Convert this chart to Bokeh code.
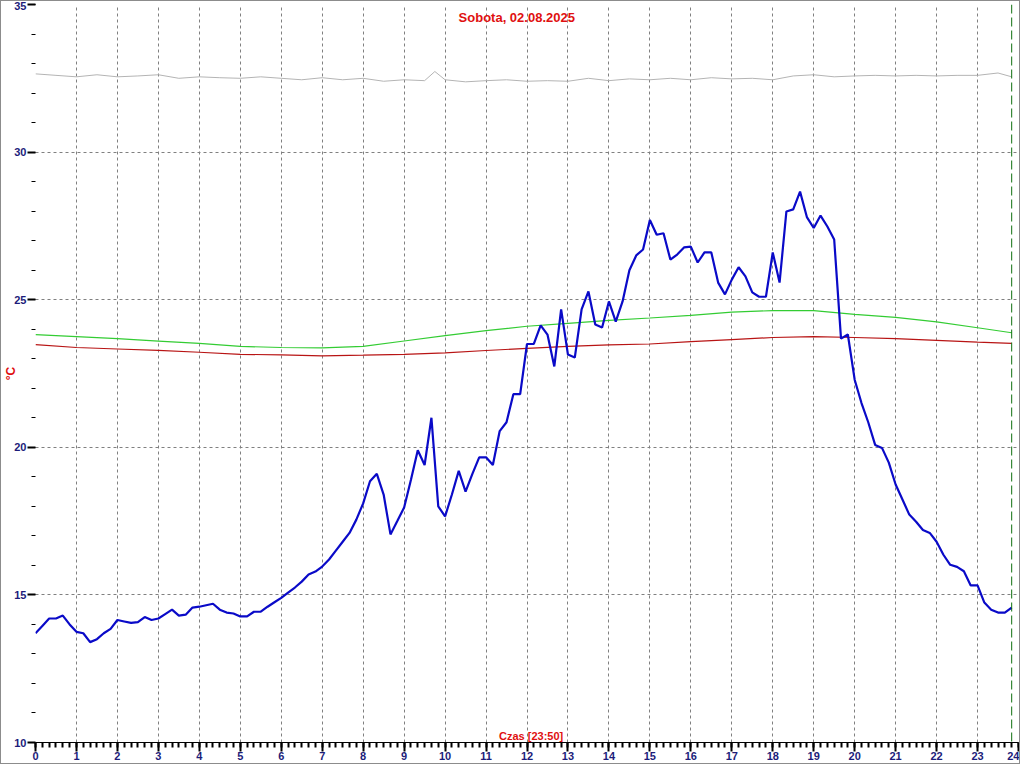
import math
from bokeh.plotting import figure
from bokeh.models import SingleIntervalTicker, Range1d, Label, Span
from bokeh.embed import file_html
from bokeh.resources import INLINE

# ---------------- data ----------------
title_text = "Sobota, 02.08.2025"
x_label_text = "Czas [23:50]"
y_label_text = "°C"
last_time_h = 23 + 50 / 60

# main (blue) temperature, every 10 minutes from 00:00 to 23:50
blue_temp = [
    13.7, 13.95, 14.2, 14.2, 14.3, 14.0, 13.75, 13.7, 13.4, 13.5,
    13.7, 13.85, 14.15, 14.1, 14.05, 14.08, 14.25, 14.15, 14.2, 14.35,
    14.5, 14.3, 14.33, 14.57, 14.6, 14.65, 14.7, 14.5, 14.4, 14.37,
    14.27, 14.27, 14.43, 14.43, 14.6, 14.75, 14.9, 15.08, 15.25, 15.45,
    15.69, 15.79, 15.96, 16.2, 16.5, 16.8, 17.1, 17.55, 18.1, 18.85,
    19.1, 18.4, 17.05, 17.5, 17.96, 18.9, 19.9, 19.4, 21.0, 18.0,
    17.66, 18.4, 19.2, 18.5, 19.1, 19.66, 19.66, 19.4, 20.55, 20.85,
    21.8, 21.8, 23.5, 23.5, 24.13, 23.82, 22.74, 24.67, 23.14, 23.04,
    24.67, 25.28, 24.16, 24.06, 24.94, 24.26, 24.94, 26.0, 26.5, 26.7,
    27.7, 27.2, 27.25, 26.36, 26.53, 26.77, 26.8, 26.26, 26.6, 26.6,
    25.58, 25.18, 25.68, 26.1, 25.79, 25.25, 25.1, 25.1, 26.6, 25.58,
    27.99, 28.06, 28.66, 27.8, 27.43, 27.85, 27.48, 27.04, 23.68, 23.82,
    22.29, 21.5, 20.84, 20.08, 19.98, 19.48, 18.74, 18.23, 17.72, 17.48,
    17.2, 17.1, 16.8, 16.36, 16.02, 15.95, 15.8, 15.32, 15.32, 14.74,
    14.5, 14.4, 14.4, 14.57,
]
blue_minutes = list(range(0, 1440, 10))

# green and red series (hourly readings, last at 23:50)
hourly_times = list(range(0, 24)) + [last_time_h]
green_temp = [23.82, 23.75, 23.68, 23.6, 23.52, 23.42, 23.38, 23.37, 23.42, 23.6,
              23.78, 23.95, 24.1, 24.2, 24.3, 24.38, 24.47, 24.58, 24.63, 24.63,
              24.5, 24.4, 24.25, 24.05, 23.88]
red_temp = [23.48, 23.38, 23.33, 23.28, 23.22, 23.15, 23.13, 23.1, 23.12, 23.15,
            23.2, 23.28, 23.35, 23.42, 23.47, 23.5, 23.58, 23.65, 23.72, 23.75,
            23.72, 23.68, 23.62, 23.56, 23.52]

# grey series (half-hourly)
grey_times = [0, 0.5, 1, 1.5, 2, 2.5, 3, 3.5, 4, 4.5, 5, 5.5, 6, 6.5, 7, 7.5, 8, 8.5,
              9, 9.5, 9.75, 10, 10.5, 11, 11.5, 12, 12.5, 13, 13.5, 14, 14.5, 15,
              15.5, 16, 16.5, 17, 17.5, 18, 18.5, 19, 19.5, 20, 20.5, 21, 21.5, 22,
              22.5, 23, 23.5, last_time_h]
grey_temp = [32.65, 32.6, 32.55, 32.62, 32.55, 32.58, 32.62, 32.5, 32.55, 32.52,
             32.5, 32.55, 32.5, 32.45, 32.52, 32.45, 32.5, 32.4, 32.45, 32.42,
             32.73, 32.45, 32.38, 32.42, 32.45, 32.4, 32.42, 32.4, 32.5, 32.42,
             32.48, 32.45, 32.5, 32.45, 32.52, 32.48, 32.5, 32.45, 32.58, 32.62,
             32.55, 32.58, 32.6, 32.58, 32.6, 32.58, 32.6, 32.6, 32.68, 32.55]

x_start, x_end = 0, 24
y_start, y_end = 10, 35

# ---------------- figure ----------------
FONT = "Liberation Sans"
NAVY = "#1c1c7a"
RED = "#e01010"

p = figure(width=1020, height=764, output_backend="svg", toolbar_location=None,
           x_range=Range1d(x_start, x_end), y_range=Range1d(y_start, y_end),
           min_border_left=33, min_border_right=3, min_border_top=3, min_border_bottom=23)
p.styles = {"border": "1px solid #8c8c8c"}
p.outline_line_color = None
p.background_fill_color = "white"
p.border_fill_color = "white"

# axes
xax = p.xaxis[0]
xax.ticker = SingleIntervalTicker(interval=1, num_minor_ticks=6)
xax.axis_line_color = "black"
xax.axis_line_width = 1
xax.major_tick_line_color = "black"
xax.minor_tick_line_color = "black"
xax.major_tick_in = 0
xax.major_tick_out = 9
xax.minor_tick_in = 0
xax.minor_tick_out = 5
xax.major_tick_line_width = 2
xax.minor_tick_line_width = 2
xax.major_label_standoff = 0
xax.major_label_text_font = FONT
xax.major_label_text_font_style = "bold"
xax.major_label_text_font_size = "11px"
xax.major_label_text_color = NAVY

yax = p.yaxis[0]
yax.ticker = SingleIntervalTicker(interval=5, num_minor_ticks=5)
yax.axis_line_color = None
yax.major_tick_line_color = "black"
yax.minor_tick_line_color = "black"
yax.major_tick_in = 0
yax.major_tick_out = 8
yax.minor_tick_in = 0
yax.minor_tick_out = 4
yax.major_tick_line_width = 2
yax.minor_tick_line_width = 1
yax.major_label_standoff = 1
yax.major_label_text_font = FONT
yax.major_label_text_font_style = "bold"
yax.major_label_text_font_size = "11px"
yax.major_label_text_color = NAVY
yax.axis_label = y_label_text
yax.axis_label_standoff = -7
yax.axis_label_text_font = FONT
yax.axis_label_text_font_style = "bold"
yax.axis_label_text_font_size = "12px"
yax.axis_label_text_color = RED

# grids
p.xgrid.ticker = SingleIntervalTicker(interval=1)
p.ygrid.ticker = SingleIntervalTicker(interval=5)
for g in (p.xgrid[0], p.ygrid[0]):
    g.grid_line_color = "#808080"
    g.grid_line_dash = "3 3"
    g.grid_line_width = 1

# series
p.line(grey_times, grey_temp, line_color="#b4b4b4", line_width=1)
p.line(hourly_times, green_temp, line_color="#33cc33", line_width=1.2)
p.line(hourly_times, red_temp, line_color="#b81414", line_width=1.2)
p.line([m / 60 for m in blue_minutes], blue_temp, line_color="#0a0ac8", line_width=2.2)

# current time marker
p.add_layout(Span(location=last_time_h, dimension="height", line_color="#107010",
                  line_dash="9 4", line_width=1))

# texts
p.add_layout(Label(x=11.75, y=34.55, text=title_text, text_color=RED, text_font=FONT,
                   text_font_style="bold", text_font_size="13px",
                   text_align="center", text_baseline="middle"))
p.add_layout(Label(x=12.1, y=y_start + 0.02, text=x_label_text, text_color=RED,
                   text_font=FONT, text_font_style="bold", text_font_size="11px",
                   text_align="center", text_baseline="bottom"))

open("out.html", "w").write(file_html(p, INLINE))
